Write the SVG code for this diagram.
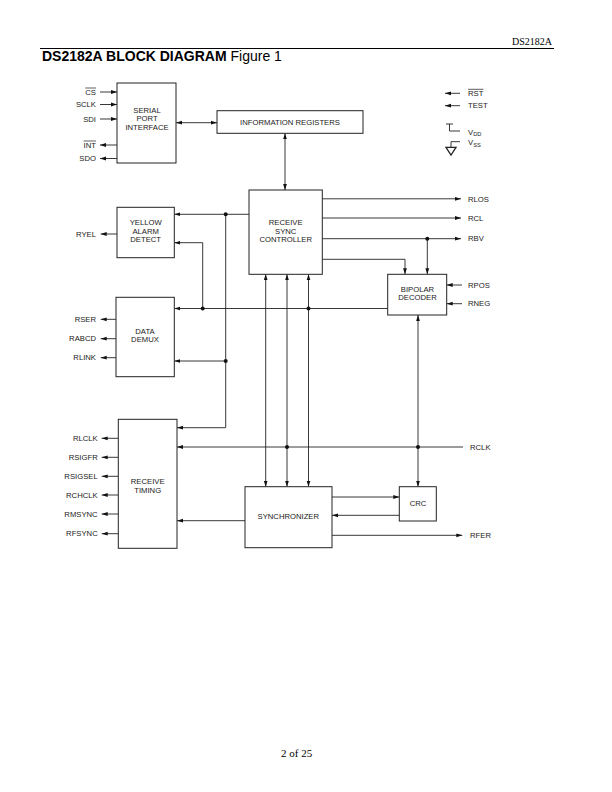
<svg xmlns="http://www.w3.org/2000/svg" width="612" height="792" viewBox="0 0 612 792">
<style>
.bg{fill:#ffffff}
.box{fill:#ffffff;stroke:#222;stroke-width:1}
.ln{fill:none;stroke:#222;stroke-width:0.9}
.lbl{font-family:"Liberation Sans",Arial,sans-serif;font-size:7.7px;fill:#1a1a1a}
.mid{text-anchor:middle}
.end{text-anchor:end}
.dot{fill:#111}
.hdr{font-family:"Liberation Serif","Times New Roman",serif;fill:#000}
.ttl{font-family:"Liberation Sans",Arial,sans-serif;font-size:14px;fill:#000}
</style>
<defs>
<marker id="ah" markerUnits="userSpaceOnUse" markerWidth="7" markerHeight="5" refX="6" refY="2.5" orient="auto-start-reverse">
<path d="M0,0.6 L6,2.5 L0,4.4 z" fill="#111"/>
</marker>
</defs>
<rect class="bg" x="0" y="0" width="612" height="792"/>

<g id="header">
<text class="hdr" x="552" y="45" font-size="10" text-anchor="end">DS2182A</text>
<line x1="40" y1="48.5" x2="554" y2="48.5" stroke="#000" stroke-width="1.2"/>
<text class="ttl" x="42" y="61"><tspan font-weight="bold">DS2182A BLOCK DIAGRAM</tspan> Figure 1</text>
</g>

<g id="connectors">
<line class="ln" x1="100" y1="92" x2="117" y2="92" marker-end="url(#ah)"/>
<line class="ln" x1="100" y1="104.5" x2="117" y2="104.5" marker-end="url(#ah)"/>
<line class="ln" x1="100" y1="119" x2="117" y2="119" marker-end="url(#ah)"/>
<line class="ln" x1="117" y1="145" x2="100" y2="145" marker-end="url(#ah)"/>
<line class="ln" x1="117" y1="158.5" x2="100" y2="158.5" marker-end="url(#ah)"/>
<line class="ln" x1="176" y1="122.7" x2="217" y2="122.7" marker-start="url(#ah)" marker-end="url(#ah)"/>
<line class="ln" x1="285" y1="133.3" x2="285" y2="190" marker-start="url(#ah)" marker-end="url(#ah)"/>
<line class="ln" x1="460" y1="93.3" x2="445" y2="93.3" marker-end="url(#ah)"/>
<line class="ln" x1="460" y1="105.7" x2="445" y2="105.7" marker-end="url(#ah)"/>
<line class="ln" x1="249" y1="214.3" x2="174.3" y2="214.3" marker-end="url(#ah)"/>
<polyline class="ln" points="225.7,214.3 225.7,427.7 177,427.7" marker-end="url(#ah)"/>
<line class="ln" x1="225.7" y1="361" x2="174.3" y2="361" marker-end="url(#ah)"/>
<polyline class="ln" points="202.7,308.5 202.7,242.7 174.3,242.7" marker-end="url(#ah)"/>
<line class="ln" x1="387.7" y1="308.5" x2="174.3" y2="308.5" marker-end="url(#ah)"/>
<line class="ln" x1="117" y1="234" x2="100.7" y2="234" marker-end="url(#ah)"/>
<line class="ln" x1="116" y1="319.3" x2="100.7" y2="319.3" marker-end="url(#ah)"/>
<line class="ln" x1="116" y1="338.7" x2="100.7" y2="338.7" marker-end="url(#ah)"/>
<line class="ln" x1="116" y1="357.7" x2="100.7" y2="357.7" marker-end="url(#ah)"/>
<line class="ln" x1="322.3" y1="198.8" x2="461" y2="198.8" marker-end="url(#ah)"/>
<line class="ln" x1="322.3" y1="218" x2="461" y2="218" marker-end="url(#ah)"/>
<line class="ln" x1="322.3" y1="238.7" x2="461" y2="238.7" marker-end="url(#ah)"/>
<line class="ln" x1="427.3" y1="238.7" x2="427.3" y2="274.3" marker-end="url(#ah)"/>
<polyline class="ln" points="322.3,259.3 405,259.3 405,274.3" marker-end="url(#ah)"/>
<line class="ln" x1="462" y1="285" x2="446.7" y2="285" marker-end="url(#ah)"/>
<line class="ln" x1="462" y1="303.7" x2="446.7" y2="303.7" marker-end="url(#ah)"/>
<line class="ln" x1="418" y1="315" x2="418" y2="486.7" marker-start="url(#ah)" marker-end="url(#ah)"/>
<line class="ln" x1="265.7" y1="274.3" x2="265.7" y2="486.7" marker-start="url(#ah)" marker-end="url(#ah)"/>
<line class="ln" x1="287" y1="274.3" x2="287" y2="486.7" marker-start="url(#ah)" marker-end="url(#ah)"/>
<line class="ln" x1="308.5" y1="274.3" x2="308.5" y2="486.7" marker-start="url(#ah)" marker-end="url(#ah)"/>
<line class="ln" x1="463" y1="447" x2="177" y2="447" marker-end="url(#ah)"/>
<line class="ln" x1="118.3" y1="438.3" x2="101.7" y2="438.3" marker-end="url(#ah)"/>
<line class="ln" x1="118.3" y1="457.3" x2="101.7" y2="457.3" marker-end="url(#ah)"/>
<line class="ln" x1="118.3" y1="476.3" x2="101.7" y2="476.3" marker-end="url(#ah)"/>
<line class="ln" x1="118.3" y1="495" x2="101.7" y2="495" marker-end="url(#ah)"/>
<line class="ln" x1="118.3" y1="514" x2="101.7" y2="514" marker-end="url(#ah)"/>
<line class="ln" x1="118.3" y1="533.7" x2="101.7" y2="533.7" marker-end="url(#ah)"/>
<line class="ln" x1="245" y1="520.7" x2="177" y2="520.7" marker-end="url(#ah)"/>
<line class="ln" x1="332" y1="497" x2="399.3" y2="497" marker-end="url(#ah)"/>
<line class="ln" x1="399.3" y1="515.3" x2="332" y2="515.3" marker-end="url(#ah)"/>
<line class="ln" x1="332" y1="535.3" x2="462.3" y2="535.3" marker-end="url(#ah)"/>
<circle class="dot" cx="225.7" cy="214.3" r="2"/>
<circle class="dot" cx="225.7" cy="361" r="2"/>
<circle class="dot" cx="202.7" cy="308.5" r="2"/>
<circle class="dot" cx="308.5" cy="308.5" r="2"/>
<circle class="dot" cx="427.3" cy="238.7" r="2"/>
<circle class="dot" cx="287" cy="447" r="2"/>
<circle class="dot" cx="418" cy="447" r="2"/>
</g>

<g id="serial-port-interface">
<rect class="box" x="117" y="83" width="59" height="80"/>
<text class="lbl mid" x="147" y="112.7">SERIAL</text>
<text class="lbl mid" x="147" y="121">PORT</text>
<text class="lbl mid" x="147" y="129.5">INTERFACE</text>
</g>

<g id="pins-serial">
<text class="lbl end" x="96" y="94.7">CS</text>
<line x1="85.3" y1="88" x2="96" y2="88" stroke="#1a1a1a" stroke-width="0.7"/>
<text class="lbl end" x="96" y="107.2">SCLK</text>
<text class="lbl end" x="96" y="121.7">SDI</text>
<text class="lbl end" x="96" y="147.7">INT</text>
<line x1="83.6" y1="141" x2="96" y2="141" stroke="#1a1a1a" stroke-width="0.7"/>
<text class="lbl end" x="96" y="161.2">SDO</text>
</g>

<g id="information-registers">
<rect class="box" x="217" y="110.7" width="146" height="22.6"/>
<text class="lbl mid" x="290" y="124.7">INFORMATION REGISTERS</text>
</g>

<g id="power-pins">
<text class="lbl" x="468" y="96">RST</text>
<line x1="468" y1="89.3" x2="483.4" y2="89.3" stroke="#1a1a1a" stroke-width="0.7"/>
<text class="lbl" x="468" y="108.4">TEST</text>
<path class="ln" d="M446,124 H453 M449.5,124 V131 H460"/>
<text class="lbl" x="468" y="134.5">V<tspan font-size="5.7" dy="1.5">DD</tspan></text>
<path class="ln" d="M460,141.7 H451 V147.3"/>
<path d="M446,147.3 H456 L451,155 Z" fill="none" stroke="#222" stroke-width="1.3"/>
<text class="lbl" x="468" y="145">V<tspan font-size="5.7" dy="1.5">SS</tspan></text>
</g>

<g id="receive-sync-controller">
<rect class="box" x="249" y="190" width="73.3" height="84.3"/>
<text class="lbl mid" x="285.7" y="225">RECEIVE</text>
<text class="lbl mid" x="285.7" y="233.7">SYNC</text>
<text class="lbl mid" x="285.7" y="242">CONTROLLER</text>
</g>

<g id="yellow-alarm-detect">
<rect class="box" x="117" y="207.3" width="57.3" height="50.4"/>
<text class="lbl mid" x="145.7" y="225">YELLOW</text>
<text class="lbl mid" x="145.7" y="233.7">ALARM</text>
<text class="lbl mid" x="145.7" y="242">DETECT</text>
<text class="lbl end" x="96" y="236.7">RYEL</text>
</g>

<g id="data-demux">
<rect class="box" x="116" y="297.3" width="58.3" height="79.4"/>
<text class="lbl mid" x="145" y="333.7">DATA</text>
<text class="lbl mid" x="145" y="342.4">DEMUX</text>
<text class="lbl end" x="96" y="322">RSER</text>
<text class="lbl end" x="96" y="341.4">RABCD</text>
<text class="lbl end" x="96" y="360.4">RLINK</text>
</g>

<g id="rsc-outputs">
<text class="lbl" x="468" y="201.5">RLOS</text>
<text class="lbl" x="468" y="220.7">RCL</text>
<text class="lbl" x="468" y="241.4">RBV</text>
</g>

<g id="bipolar-decoder">
<rect class="box" x="387.7" y="274.3" width="59" height="40.7"/>
<text class="lbl mid" x="417.5" y="291.7">BIPOLAR</text>
<text class="lbl mid" x="417.5" y="299.7">DECODER</text>
<text class="lbl" x="468" y="287.7">RPOS</text>
<text class="lbl" x="468" y="306.4">RNEG</text>
</g>

<g id="receive-timing">
<rect class="box" x="118.3" y="419.3" width="58.7" height="129"/>
<text class="lbl mid" x="147.7" y="483.7">RECEIVE</text>
<text class="lbl mid" x="147.7" y="492.7">TIMING</text>
<text class="lbl end" x="97.7" y="441">RLCLK</text>
<text class="lbl end" x="97.7" y="460">RSIGFR</text>
<text class="lbl end" x="97.7" y="479">RSIGSEL</text>
<text class="lbl end" x="97.7" y="497.7">RCHCLK</text>
<text class="lbl end" x="97.7" y="516.7">RMSYNC</text>
<text class="lbl end" x="97.7" y="536.4">RFSYNC</text>
</g>

<g id="synchronizer">
<rect class="box" x="245" y="486.7" width="87" height="61"/>
<text class="lbl mid" x="288.3" y="519">SYNCHRONIZER</text>
</g>

<g id="crc">
<rect class="box" x="399.3" y="486.7" width="37" height="34.3"/>
<text class="lbl mid" x="418" y="506.4">CRC</text>
</g>

<g id="rclk-rfer">
<text class="lbl" x="470" y="449.7">RCLK</text>
<text class="lbl" x="470" y="538">RFER</text>
</g>

<g id="footer">
<text class="hdr" x="296.7" y="756.5" font-size="11" text-anchor="middle">2 of 25</text>
</g>
</svg>
